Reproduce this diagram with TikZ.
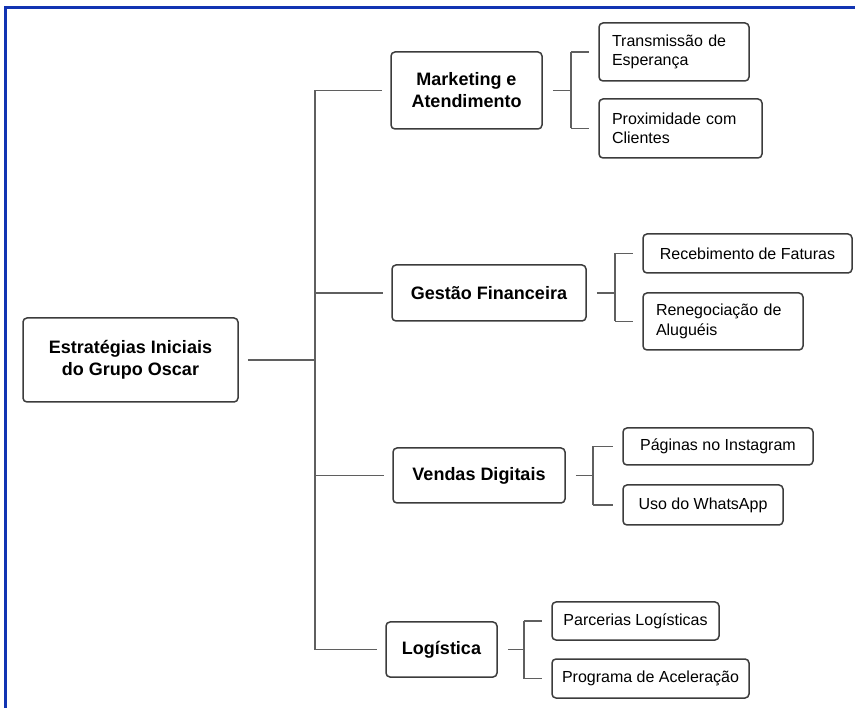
\documentclass[tikz,border=0pt]{standalone}
\usepackage{fontspec}
\setmainfont{Liberation Sans}
\definecolor{frameblue}{RGB}{18,52,178}
\definecolor{boxline}{RGB}{60,60,60}
\definecolor{connline}{RGB}{95,95,95}
\begin{document}
\begin{tikzpicture}[x=1pt,y=-1pt,
  box/.style={draw=boxline, line width=1.5pt, rounded corners=4pt, fill=white, inner sep=0pt},
  main/.style={box, font=\fontsize{18}{22}\selectfont\bfseries, align=center},
  leaf/.style={box, font=\fontsize{16}{19.5}\selectfont, align=left, minimum width=#1},
  leaftwo/.style={box, font=\fontsize{16}{19.5}\selectfont, align=left, inner xsep=13pt, text width=#1-26pt},
  conn/.style={draw=connline, line width=1.6pt}]
\useasboundingbox (0,0) rectangle (855,708);
\draw[frameblue, line width=3pt] (5.5,708) -- (5.5,7.5) -- (855,7.5);
% level 0 and 1
\node[main, minimum width=215, minimum height=84] (root) at (130.5,360) {Estratégias Iniciais\\do Grupo Oscar};
\node[main, minimum width=151, minimum height=77] (mk) at (466.5,90.5) {Marketing e\\Atendimento};
\node[main, minimum width=194, minimum height=56] (gf) at (489,293) {Gestão Financeira};
\node[main, minimum width=172, minimum height=55] (vd) at (479,475.5) {Vendas Digitais};
\node[main, minimum width=111, minimum height=55] (lg) at (441.5,649.5) {Logística};
% leaves
\node[leaftwo=150pt, minimum height=58] (t1) at (674,52) {Transmissão de\\Esperança};
\node[leaftwo=163pt, minimum height=59] (t2) at (680.5,128.5) {Proximidade com\\Clientes};
\node[leaf=209pt, minimum height=39] (g1) at (747.5,253.5) {Recebimento de Faturas};
\node[leaftwo=160pt, minimum height=57] (g2) at (723,321.5) {Renegociação de\\Aluguéis};
\node[leaf=190pt, minimum height=37] (v1) at (718,446.5) {Páginas no Instagram};
\node[leaf=160pt, minimum height=40] (v2) at (703,505) {Uso do WhatsApp};
\node[leaf=167pt, minimum height=38] (l1) at (635.5,621) {Parcerias Logísticas};
\node[leaf=197pt, minimum height=39] (l2) at (650.5,678.5) {Programa de Aceleração};
% connector columns
\coordinate (tr) at (315,0);
\coordinate (bm) at (571,0);
\coordinate (bg) at (615,0);
\coordinate (bv) at (593,0);
\coordinate (bl) at (524,0);
% trunk
\draw[conn, shorten <=9pt] (root.east) -- (root.east -| tr);
\draw[conn] (mk.west -| tr) -- (lg.west -| tr);
\foreach \n in {mk,gf,vd,lg}{
  \draw[conn, shorten >=8pt] (\n.west -| tr) -- (\n.west);
}
% branches
\foreach \p/\c/\a/\b in {mk/bm/t1/t2, gf/bg/g1/g2, vd/bv/v1/v2, lg/bl/l1/l2}{
  \draw[conn, shorten <=10pt] (\p.east) -- (\p.east -| \c);
  \draw[conn] (\a.west -| \c) -- (\b.west -| \c);
  \draw[conn, shorten >=9pt] (\a.west -| \c) -- (\a.west);
  \draw[conn, shorten >=9pt] (\b.west -| \c) -- (\b.west);
}
\end{tikzpicture}
\end{document}
